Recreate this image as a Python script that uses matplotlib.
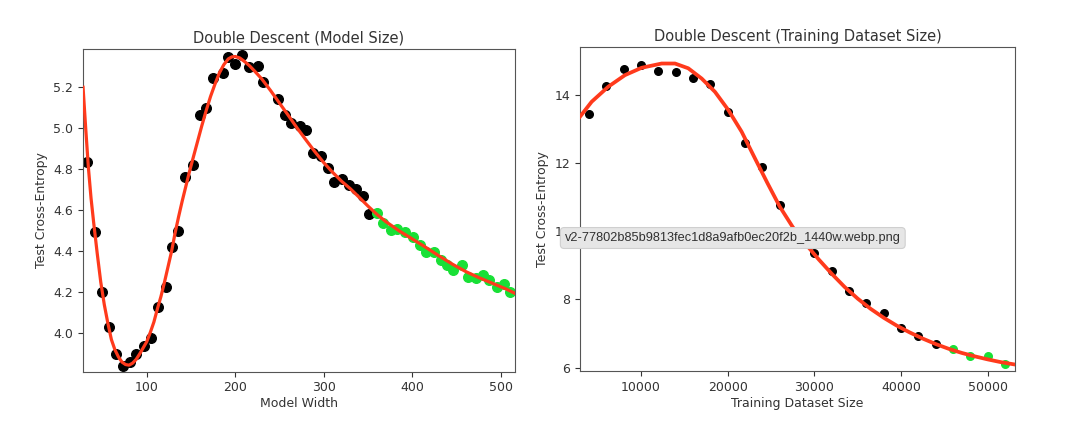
import matplotlib
matplotlib.use("Agg")
from matplotlib import pyplot as plt

# ---- left panel: test loss vs model width ----
width_black = [33, 42, 49, 57.5, 65.5, 73.5, 80.5, 88, 96.5, 104.5, 113, 121.5, 128.3, 135.8,
               143.3, 152.7, 160.3, 167, 174.6, 185.9, 192.2, 199.8, 208, 215.6, 225.4, 231.7,
               248, 256.2, 262.6, 273, 279.9, 288.1, 296.8, 304.4, 311.9, 320.2, 328.8, 336.3,
               344.6, 351]
loss_black = [4.837, 4.496, 4.203, 4.029, 3.897, 3.840, 3.861, 3.899, 3.940, 3.979, 4.127, 4.224,
              4.422, 4.500, 4.764, 4.821, 5.065, 5.098, 5.244, 5.270, 5.346, 5.312, 5.358, 5.300,
              5.305, 5.227, 5.141, 5.065, 5.027, 5.011, 4.992, 4.878, 4.865, 4.808, 4.737, 4.753,
              4.723, 4.702, 4.671, 4.582]
width_green = [359.7, 367.2, 375.8, 382.3, 391.6, 401, 408.6, 415, 424.4, 431.9, 438.7, 445.5,
               455.6, 463.1, 471.4, 479.3, 486.8, 495.1, 503.4, 510.2]
loss_green = [4.588, 4.537, 4.504, 4.507, 4.496, 4.471, 4.431, 4.398, 4.398, 4.358, 4.333, 4.309,
              4.333, 4.273, 4.268, 4.284, 4.260, 4.224, 4.239, 4.203]

# fitted curve
width_fit = [28, 31, 34, 37, 40, 44, 48, 52, 56, 60, 64, 68, 72, 76, 80, 84, 88, 92, 96, 100,
             104, 108, 112, 116, 120, 124, 128, 132, 136, 140, 144, 148, 152, 157, 162, 167,
             172, 177, 182, 187, 192, 196, 200, 205, 210, 216, 222, 230, 240, 250, 260, 270,
             280, 290, 300, 310, 320, 330, 340, 350, 360, 370, 385, 400, 415, 430, 445, 460,
             475, 490, 505, 516]
loss_fit = [5.20, 5.00, 4.81, 4.66, 4.54, 4.39, 4.25, 4.14, 4.05, 3.97, 3.92, 3.885, 3.86, 3.848,
            3.845, 3.855, 3.873, 3.90, 3.93, 3.96, 4.005, 4.055, 4.12, 4.18, 4.25, 4.325, 4.40,
            4.49, 4.57, 4.645, 4.715, 4.785, 4.85, 4.93, 5.01, 5.085, 5.155, 5.215, 5.27, 5.31,
            5.338, 5.348, 5.35, 5.343, 5.327, 5.305, 5.278, 5.24, 5.183, 5.122, 5.062, 5.00,
            4.942, 4.885, 4.832, 4.785, 4.742, 4.705, 4.663, 4.62, 4.58, 4.545, 4.50, 4.46,
            4.42, 4.378, 4.338, 4.302, 4.272, 4.245, 4.218, 4.195]

# ---- right panel: test loss vs training set size ----
size_black = [4000, 6000, 8000, 10000, 12000, 14000, 16000, 18000, 20000, 22000, 24000, 26000,
              28000, 30000, 32000, 34000, 36000, 38000, 40000, 42000, 44000]
ce_black = [13.42, 14.25, 14.75, 14.88, 14.69, 14.67, 14.50, 14.30, 13.50, 12.59, 11.87, 10.76,
            9.9, 9.37, 8.83, 8.23, 7.89, 7.61, 7.15, 6.94, 6.69]
size_green = [46000, 48000, 50000, 52000]
ce_green = [6.55, 6.35, 6.34, 6.10]

size_fit = [2964, 4314, 6228, 8155, 10080, 12388, 13922, 15456, 17001, 18535, 20069, 21615,
            23149, 24600, 26000, 27500, 29000, 30500, 32000, 33500, 35000, 36500, 38000, 39500,
            41000, 42500, 44000, 45500, 47000, 48500, 50000, 51500, 53137]
ce_fit = [13.35, 13.79, 14.23, 14.57, 14.785, 14.91, 14.91, 14.77, 14.47, 14.08, 13.55, 12.91,
          12.13, 11.40, 10.72, 10.12, 9.62, 9.17, 8.75, 8.36, 8.02, 7.72, 7.46, 7.23, 7.03,
          6.85, 6.69, 6.55, 6.43, 6.33, 6.24, 6.16, 6.09]

red = "#ff3a1c"
green = "#18e036"
text_col = "#333333"

plt.rcParams["font.family"] = "DejaVu Sans"
plt.rcParams["text.color"] = text_col
plt.rcParams["axes.labelcolor"] = text_col
plt.rcParams["xtick.color"] = text_col
plt.rcParams["ytick.color"] = text_col
plt.rcParams["axes.edgecolor"] = "#555555"

fig = plt.figure(figsize=(10.8, 4.42), dpi=100)
ax1 = fig.add_axes([0.0769, 0.159, 0.400, 0.7294])
ax2 = fig.add_axes([0.537, 0.1606, 0.4028, 0.732])

# left plot
ax1.scatter(width_black, loss_black, s=48, color="black", zorder=2)
ax1.scatter(width_green, loss_green, s=48, color=green, zorder=2)
ax1.plot(width_fit, loss_fit, color=red, linewidth=2.3, zorder=3)
ax1.set_xlim(28, 516)
ax1.set_ylim(3.813, 5.385)
ax1.set_yticks([4.0, 4.2, 4.4, 4.6, 4.8, 5.0, 5.2])
ax1.set_xticks([100, 200, 300, 400, 500])
ax1.set_title("Double Descent (Model Size)", fontsize=10.5, pad=5)
ax1.set_xlabel("Model Width", fontsize=9, labelpad=2)
ax1.set_ylabel("Test Cross-Entropy", fontsize=9)
ax1.tick_params(labelsize=9)

# right plot
ax2.scatter(size_black, ce_black, s=30, color="black", zorder=2)
ax2.scatter(size_green, ce_green, s=30, color=green, zorder=2)
ax2.plot(size_fit, ce_fit, color=red, linewidth=2.7, zorder=3)
ax2.set_xlim(2964, 53137)
ax2.set_ylim(5.90, 15.38)
ax2.set_yticks([6, 8, 10, 12, 14])
ax2.set_xticks([10000, 20000, 30000, 40000, 50000])
ax2.set_title("Double Descent (Training Dataset Size)", fontsize=10.5, pad=5)
ax2.set_xlabel("Training Dataset Size", fontsize=9, labelpad=2)
ax2.set_ylabel("Test Cross-Entropy", fontsize=9)
ax2.tick_params(labelsize=9)

# file-name tooltip that sits on top of the screenshot
fig.text(0.523, 0.4615, "v2-77802b85b9813fec1d8a9afb0ec20f2b_1440w.webp.png",
         fontsize=9.2, family="Liberation Sans", color="#303030", va="center", ha="left",
         bbox=dict(boxstyle="round,pad=0.35,rounding_size=0.3", facecolor="#e6e6e6",
                   edgecolor="#cfcfcf", linewidth=0.8))

fig.savefig("out.png", dpi=100)
